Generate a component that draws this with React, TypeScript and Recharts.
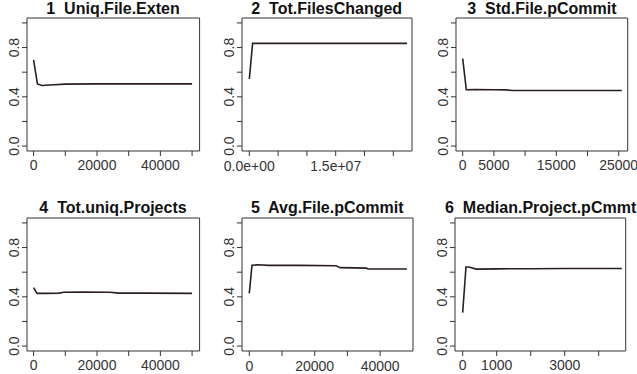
import React from 'react';
import { LineChart, Line, XAxis, YAxis, ReferenceArea } from 'recharts';

// panel titles
const titles = [
  '1  Uniq.File.Exten',
  '2  Tot.FilesChanged',
  '3  Std.File.pCommit',
  '4  Tot.uniq.Projects',
  '5  Avg.File.pCommit',
  '6  Median.Project.pCmmt',
];

// series values
const uniqFileExtenX = [0, 1200, 2600, 5000, 10000, 20000, 30000, 40000, 50000];
const uniqFileExtenY = [0.7, 0.505, 0.492, 0.496, 0.503, 0.505, 0.505, 0.505, 0.505];

const totFilesChangedX = [0, 570000, 5000000, 10000000, 15000000, 20000000, 27400000];
const totFilesChangedY = [0.545, 0.834, 0.834, 0.834, 0.834, 0.834, 0.834];

const stdFilePCommitX = [0, 580, 2000, 5000, 7000, 8000, 15000, 25500];
const stdFilePCommitY = [0.71, 0.457, 0.458, 0.457, 0.456, 0.451, 0.451, 0.451];

const totUniqProjectsX = [0, 1100, 4000, 8000, 9500, 15000, 24000, 27000, 35000, 50000];
const totUniqProjectsY = [0.475, 0.428, 0.428, 0.43, 0.437, 0.438, 0.437, 0.43, 0.43, 0.428];

const avgFilePCommitX = [0, 830, 2500, 6000, 15000, 26500, 27800, 35800, 36300, 48200];
const avgFilePCommitY = [0.428, 0.656, 0.66, 0.655, 0.655, 0.652, 0.637, 0.633, 0.626, 0.626];

const medianProjectX = [0, 97, 180, 400, 1000, 2000, 3000, 4680];
const medianProjectY = [0.272, 0.642, 0.642, 0.625, 0.627, 0.628, 0.63, 0.63];

// axis ticks and which of them carry a label
const ticks50k = [0, 10000, 20000, 30000, 40000, 50000];
const labels50k = [0, 20000, 40000];
const ticksFiles = [0, 5000000, 10000000, 15000000, 20000000, 25000000];
const labelsFiles = [0, 15000000];
const ticks25k = [0, 5000, 10000, 15000, 20000, 25000];
const labels25k = [0, 5000, 15000, 25000];
const ticks40k = [0, 10000, 20000, 30000, 40000];
const ticks4k = [0, 1000, 2000, 3000, 4000];
const labels4k = [0, 1000, 3000];
const yTicks = [0, 0.2, 0.4, 0.6, 0.8, 1.0];
const yLabels = [0, 0.4, 0.8];

const FONT = '"Liberation Sans", Arial, sans-serif';
const INK = '#333';

const sciFmt = (v: number) => {
  if (v === 0) return '0.0e+00';
  const e = Math.floor(Math.log10(v));
  const m = v / Math.pow(10, e);
  return `${m.toFixed(1)}e+${String(e).padStart(2, '0')}`;
};

const zip = (xs: number[], ys: number[]) => xs.map((x, i) => ({ x, y: ys[i] }));

const panels = [
  { title: titles[0], data: zip(uniqFileExtenX, uniqFileExtenY), box: [26.7, 199.3, 18, 151], xDomain: [-2080, 52370], ticks: ticks50k, labels: labels50k, fmt: String },
  { title: titles[1], data: zip(totFilesChangedX, totFilesChangedY), box: [241.7, 411.7, 18, 151], xDomain: [-1270000, 28250000], ticks: ticksFiles, labels: labelsFiles, fmt: sciFmt },
  { title: titles[2], data: zip(stdFilePCommitX, stdFilePCommitY), box: [456, 627.7, 18, 151], xDomain: [-1074, 26440], ticks: ticks25k, labels: labels25k, fmt: String },
  { title: titles[3], data: zip(totUniqProjectsX, totUniqProjectsY), box: [26.7, 199.3, 217.5, 350.5], xDomain: [-2080, 52370], ticks: ticks50k, labels: labels50k, fmt: String },
  { title: titles[4], data: zip(avgFilePCommitX, avgFilePCommitY), box: [241.7, 412.7, 217.5, 350.5], xDomain: [-2230, 50060], ticks: ticks40k, labels: labels50k, fmt: String },
  { title: titles[5], data: zip(medianProjectX, medianProjectY), box: [455.3, 626, 217.5, 350.5], xDomain: [-226, 4794], ticks: ticks4k, labels: labels4k, fmt: String },
];

const Y_AXIS_W = 30;
const X_AXIS_H = 32;
const TOP = 20;
const RIGHT = 24;

function Panel({ p }: { p: (typeof panels)[number] }) {
  const [x0, x1, y0, y1] = p.box;
  const w = x1 - x0;
  const h = y1 - y0;

  const XTick = (props: any) => {
    const v = props.payload.value;
    if (!p.labels.some((l) => Math.abs(l - v) < 1e-6)) return null;
    return (
      <text x={props.x} y={props.y + 7.5} textAnchor="middle" dominantBaseline="central"
        fontSize={14} fontFamily={FONT} fill={INK}>
        {p.fmt(v)}
      </text>
    );
  };

  const YTick = (props: any) => {
    const v = props.payload.value;
    if (!yLabels.some((l) => Math.abs(l - v) < 1e-6)) return null;
    const cx = props.x - 6;
    return (
      <text x={cx} y={props.y} textAnchor="middle" dominantBaseline="central"
        transform={`rotate(-90 ${cx} ${props.y})`}
        fontSize={14} fontFamily={FONT} fill={INK}>
        {v.toFixed(1)}
      </text>
    );
  };

  return (
    <>
      <div style={{
        position: 'absolute', left: (x0 + x1) / 2, top: y0 - 9.5, transform: 'translate(-50%, -50%)',
        whiteSpace: 'pre', fontFamily: FONT, fontWeight: 'bold', fontSize: 16, color: '#111', lineHeight: 1,
      }}>
        {p.title}
      </div>
      <div style={{ position: 'absolute', left: x0 - Y_AXIS_W, top: y0 - TOP }}>
        <LineChart width={w + Y_AXIS_W + RIGHT} height={h + TOP + X_AXIS_H} data={p.data}
          margin={{ top: TOP, right: RIGHT, left: 0, bottom: 0 }}>
          <XAxis type="number" dataKey="x" domain={p.xDomain} allowDataOverflow ticks={p.ticks}
            interval={0} axisLine={false} tickSize={5} tickLine={{ stroke: INK }} tick={<XTick />} height={X_AXIS_H} />
          <YAxis type="number" domain={[-0.04, 1.04]} allowDataOverflow ticks={yTicks} interval={0}
            axisLine={false} tickSize={5} tickLine={{ stroke: INK }} tick={<YTick />} width={Y_AXIS_W} />
          <ReferenceArea x1={p.xDomain[0]} x2={p.xDomain[1]} y1={-0.04} y2={1.04}
            fill="none" stroke={INK} strokeWidth={1} ifOverflow="visible" />
          <Line type="linear" dataKey="y" stroke="#2a1f1f" strokeWidth={1.6} dot={false} isAnimationActive={false} />
        </LineChart>
      </div>
    </>
  );
}

export default function App() {
  return (
    <div style={{ position: 'absolute', left: 0, top: 0, width: 637, height: 374, background: '#fff', overflow: 'hidden' }}>
      {panels.map((p, i) => <Panel key={i} p={p} />)}
    </div>
  );
}
